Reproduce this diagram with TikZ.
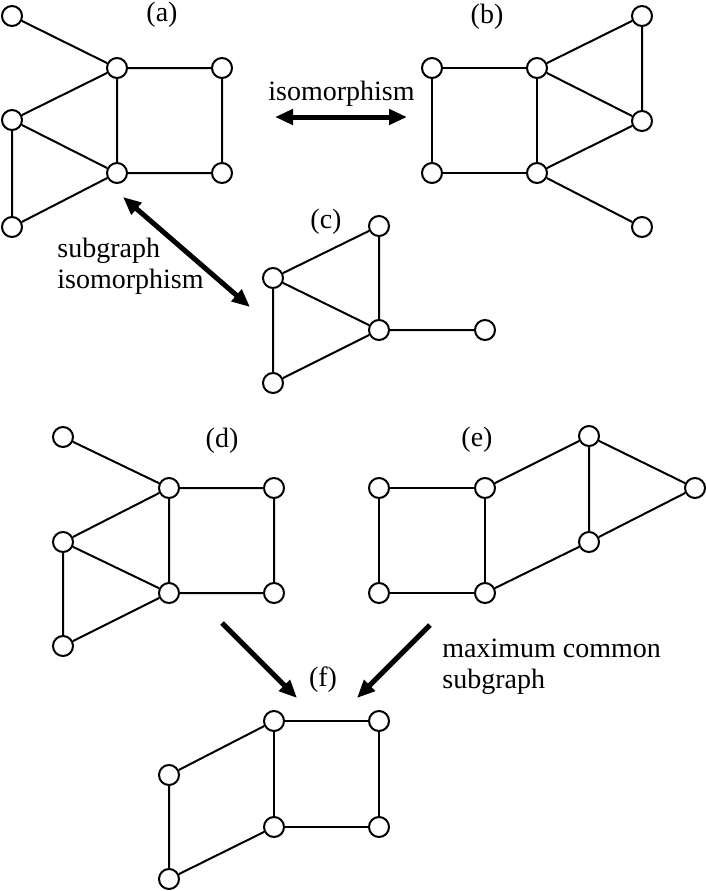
\documentclass[tikz,border=0pt]{standalone}
\usepackage{fontspec}
\setmainfont{Liberation Serif}
\usetikzlibrary{arrows.meta}
\tikzset{
  vertex/.style={circle, draw, line width=1pt, fill=white, minimum size=10pt, inner sep=0pt},
  link/.style={line width=1pt},
  bigarrow/.style={line width=2.5pt, -{Triangle[length=9pt,width=7.5pt]}},
  bigboth/.style={line width=2.5pt, {Triangle[length=9pt,width=7.5pt]}-{Triangle[length=9pt,width=7.5pt]}},
  caption/.style={font=\fontsize{14}{15.5}\selectfont, inner sep=0pt},
}

\begin{document}
\begin{tikzpicture}[x=0.5pt, y=-0.5pt]
  \useasboundingbox (0,0) rectangle (706,891);

  % (a)
  \node[caption] (laba) at (162,15) {(a)};
  \node[vertex] (a1) at (12,16) {};
  \node[vertex] (a2) at (117,68) {};
  \node[vertex] (a3) at (222,68) {};
  \node[vertex] (a4) at (12,120) {};
  \node[vertex] (a5) at (117,173) {};
  \node[vertex] (a6) at (222,173) {};
  \node[vertex] (a7) at (12,227) {};
  \draw[link] (a1) -- (a2) -- (a3) -- (a6) -- (a5) -- (a2) -- (a4) -- (a5) -- (a7) -- (a4);

  % (b)
  \node[caption] (labb) at (487,17) {(b)};
  \node[vertex] (b1) at (432,68) {};
  \node[vertex] (b2) at (537,68) {};
  \node[vertex] (b3) at (642,16) {};
  \node[vertex] (b4) at (642,121) {};
  \node[vertex] (b5) at (432,173) {};
  \node[vertex] (b6) at (537,173) {};
  \node[vertex] (b7) at (642,227) {};
  \draw[link] (b1) -- (b2) -- (b6) -- (b5) -- (b1);
  \draw[link] (b2) -- (b3) -- (b4) -- (b2);
  \draw[link] (b4) -- (b6) -- (b7);

  % isomorphism
  \node[caption, anchor=base west] (txtiso) at (268,100) {isomorphism};
  \coordinate (isol) at (275,117);
  \coordinate (isor) at (407,117);
  \draw[bigboth] (isol) -- (isor);

  % (c)
  \node[caption] (labc) at (326,222) {(c)};
  \node[vertex] (c1) at (379,226) {};
  \node[vertex] (c2) at (273,278) {};
  \node[vertex] (c3) at (379,330) {};
  \node[vertex] (c4) at (485,330) {};
  \node[vertex] (c5) at (273,383) {};
  \draw[link] (c1) -- (c2) -- (c3) -- (c1);
  \draw[link] (c2) -- (c5) -- (c3) -- (c4);

  % subgraph isomorphism
  \node[caption, anchor=west, align=left] (txtsub) at (57,266) {subgraph\\isomorphism};
  \coordinate (subt) at (123,197);
  \coordinate (subb) at (250,307);
  \draw[bigboth] (subt) -- (subb);

  % (d)
  \node[caption] (labd) at (222,441) {(d)};
  \node[vertex] (d1) at (63,437) {};
  \node[vertex] (d2) at (169,488) {};
  \node[vertex] (d3) at (274,488) {};
  \node[vertex] (d4) at (63,542) {};
  \node[vertex] (d5) at (169,593) {};
  \node[vertex] (d6) at (274,593) {};
  \node[vertex] (d7) at (63,646) {};
  \draw[link] (d1) -- (d2) -- (d3) -- (d6) -- (d5) -- (d2) -- (d4) -- (d5) -- (d7) -- (d4);

  % (e)
  \node[caption] (labe) at (477,440) {(e)};
  \node[vertex] (e1) at (379,488) {};
  \node[vertex] (e2) at (485,488) {};
  \node[vertex] (e3) at (589,436) {};
  \node[vertex] (e4) at (695,488) {};
  \node[vertex] (e5) at (589,542) {};
  \node[vertex] (e6) at (379,593) {};
  \node[vertex] (e7) at (485,593) {};
  \draw[link] (e1) -- (e2) -- (e7) -- (e6) -- (e1);
  \draw[link] (e2) -- (e3) -- (e4) -- (e5) -- (e3);
  \draw[link] (e5) -- (e7);

  % maximum common subgraph
  \node[caption, anchor=west, align=left] (txtmcs) at (442,667) {maximum common\\subgraph};
  \coordinate (fromd) at (222,623);
  \coordinate (tofl) at (297,698);
  \coordinate (frome) at (430,625);
  \coordinate (tofr) at (357,698);
  \draw[bigarrow] (fromd) -- (tofl);
  \draw[bigarrow] (frome) -- (tofr);

  % (f)
  \node[caption] (labf) at (323,680) {(f)};
  \node[vertex] (f1) at (274,721) {};
  \node[vertex] (f2) at (379,721) {};
  \node[vertex] (f3) at (169,775) {};
  \node[vertex] (f4) at (274,827) {};
  \node[vertex] (f5) at (379,827) {};
  \node[vertex] (f6) at (169,879) {};
  \draw[link] (f1) -- (f2) -- (f5) -- (f4) -- (f1);
  \draw[link] (f1) -- (f3) -- (f6) -- (f4);
\end{tikzpicture}
\end{document}
